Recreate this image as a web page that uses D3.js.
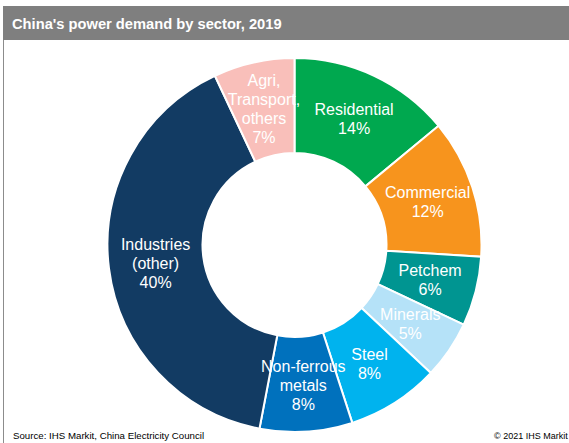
<!DOCTYPE html>
<html>
<head>
<meta charset="utf-8">
<script src="https://cdn.jsdelivr.net/npm/d3@7"></script>
<style>
  body { margin: 0; background: #fff; }
  svg { display: block; font-family: "Liberation Sans", Arial, sans-serif; }
</style>
</head>
<body>
<svg id="chart"></svg>
<script>
const width = 569
const height = 443

// data
const sectors = ['Residential', 'Commercial', 'Petchem', 'Minerals', 'Steel', 'Non-ferrous metals', 'Industries (other)', 'Agri, Transport, others']
const shares = [14, 12, 6, 5, 8, 8, 40, 7]
const labelLines = [
  ['Residential', '14%'],
  ['Commercial', '12%'],
  ['Petchem', '6%'],
  ['Minerals', '5%'],
  ['Steel', '8%'],
  ['Non-ferrous', 'metals', '8%'],
  ['Industries', '(other)', '40%'],
  ['Agri,', 'Transport,', 'others', '7%']
]
const colors = ['#00a84f', '#f7941d', '#009591', '#b5e2f8', '#00b3ee', '#0071bd', '#123b63', '#f9bfba']

const svg = d3.select('#chart')
  .attr('width', width)
  .attr('height', height)

// title bar
svg.append('rect')
  .attr('x', 3).attr('y', 6)
  .attr('width', width - 3).attr('height', 34)
  .attr('fill', '#7f7f7f')

svg.append('text')
  .attr('x', 12).attr('y', 29)
  .attr('fill', '#fff')
  .attr('font-size', 14.7)
  .attr('font-weight', 'bold')
  .text("China's power demand by sector, 2019")

// left border
svg.append('line')
  .attr('x1', 3.5).attr('x2', 3.5)
  .attr('y1', 40).attr('y2', height)
  .attr('stroke', '#8c8c8c')
  .attr('stroke-width', 1)

const cx = 294.5, cy = 245
const outerR = 187, innerR = 92

const pie = d3.pie().sort(null).value(d => d)
const arc = d3.arc().innerRadius(innerR).outerRadius(outerR)
const labelArc = d3.arc().innerRadius(140).outerRadius(140)

const arcs = pie(shares)

const g = svg.append('g').attr('transform', `translate(${cx},${cy})`)

g.selectAll('path')
  .data(arcs)
  .join('path')
  .attr('d', arc)
  .attr('fill', (d, i) => colors[i])
  .attr('stroke', '#fff')
  .attr('stroke-width', 2)

const lineH = 19
g.selectAll('text.label')
  .data(arcs)
  .join('text')
  .attr('class', 'label')
  .attr('text-anchor', 'middle')
  .attr('fill', '#fff')
  .attr('font-size', 16)
  .each(function(d, i) {
    const [x, y] = labelArc.centroid(d)
    const lines = labelLines[i]
    const y0 = y - (lines.length - 1) * lineH / 2 + 6
    d3.select(this).selectAll('tspan')
      .data(lines)
      .join('tspan')
      .attr('x', x)
      .attr('y', (l, j) => y0 + j * lineH)
      .text(l => l)
  })

// footer
svg.append('text')
  .attr('x', 13).attr('y', 439)
  .attr('font-size', 9.7)
  .attr('fill', '#000')
  .text('Source: IHS Markit, China Electricity Council')

svg.append('text')
  .attr('x', 494).attr('y', 439)
  .attr('font-size', 9)
  .attr('fill', '#000')
  .text('© 2021 IHS Markit')
</script>
</body>
</html>
